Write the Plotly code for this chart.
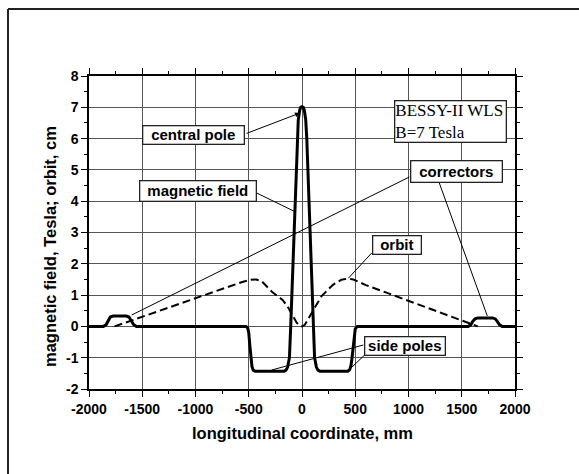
import plotly.graph_objects as go

# ---------------- data ----------------
field_x = [-2000, -1865, -1840, -1820, -1800, -1775, -1650, -1625, -1605, -1582, -1555,
           -525, -510, -500, -490, -480, -470, -458, -440,
           -168, -150, -135, -118, -106, -95, -82, -72, -63, -55, -45, -35, -22, -12, 0,
           12, 22, 35, 45, 55, 63, 72, 82, 95, 106, 118, 135, 150, 168,
           430, 448, 460, 470, 480, 490, 500, 520,
           1560, 1585, 1605, 1625, 1650, 1790, 1815, 1835, 1855, 1880, 2000]
field_y = [0, 0, 0.05, 0.2, 0.3, 0.33, 0.33, 0.3, 0.2, 0.06, 0,
           0, -0.05, -0.2, -0.6, -1.0, -1.28, -1.4, -1.43,
           -1.43, -1.4, -1.3, -1.0, 0.0, 1.0, 2.0, 3.0, 4.0, 5.0, 6.0, 6.6, 6.9, 7.0, 7.02,
           7.0, 6.9, 6.6, 6.0, 5.0, 4.0, 3.0, 2.0, 1.0, 0.0, -1.0, -1.3, -1.4, -1.43,
           -1.43, -1.38, -1.25, -1.0, -0.6, -0.25, -0.08, 0,
           0, 0.05, 0.17, 0.24, 0.27, 0.27, 0.24, 0.15, 0.05, 0, 0]

orbit_x = [-1760, -1500, -1000, -700, -560, -480, -430, -380, -330, -280, -230, -180, -130,
           -86, -50, -20, 0, 26, 60, 104, 182, 291, 370, 432, 480, 600, 800, 1000, 1200,
           1400, 1550, 1650]
orbit_y = [0, 0.31, 0.90, 1.26, 1.42, 1.49, 1.50, 1.45, 1.28, 1.10, 0.97, 0.84, 0.60,
           0.32, 0.12, 0.02, 0.0, 0.05, 0.25, 0.53, 0.96, 1.33, 1.49, 1.53, 1.50, 1.32, 1.07,
           0.82, 0.57, 0.31, 0.12, 0]

x_ticks = [-2000, -1500, -1000, -500, 0, 500, 1000, 1500, 2000]
y_ticks = [-2, -1, 0, 1, 2, 3, 4, 5, 6, 7, 8]

x_title = "longitudinal coordinate, mm"
y_title = "magnetic field, Tesla; orbit, cm"
labels = ["central pole", "magnetic field", "correctors", "orbit", "side poles"]
info_lines = ["BESSY-II WLS", "B=7 Tesla"]

# ---------------- layout helpers ----------------
W, H = 579, 474
L, R, T, B = 89, 64, 76, 85
PW, PH = W - L - R, H - T - B


def px(xp):
    return (xp - L) / PW


def py(yp):
    return (H - B - yp) / PH


SANS = "Liberation Sans, Arial, sans-serif"
SERIF = "Liberation Serif, Times New Roman, serif"

fig = go.Figure()
fig.add_trace(go.Scatter(x=orbit_x, y=orbit_y, mode="lines",
                         line=dict(color="black", width=2, dash="8px,4px"),
                         showlegend=False, hoverinfo="skip"))
fig.add_trace(go.Scatter(x=field_x, y=field_y, mode="lines",
                         line=dict(color="black", width=3),
                         showlegend=False, hoverinfo="skip"))

axis_common = dict(showline=True, linecolor="black", linewidth=1.5, mirror="ticks",
                   ticks="outside", ticklen=6, tickwidth=1.2, tickcolor="black",
                   showgrid=True, gridcolor="#555", gridwidth=1, zeroline=False,
                   tickfont=dict(family=SANS, size=14, color="black", weight="bold"))

fig.update_xaxes(range=[-2000, 2000], tickvals=x_ticks, ticktext=[str(v) for v in x_ticks],
                 minor=dict(dtick=250, ticks="outside", ticklen=3, tickcolor="black",
                            showgrid=False),
                 **axis_common)
fig.update_yaxes(range=[-2, 8], tickvals=y_ticks, ticktext=[str(v) for v in y_ticks],
                 minor=dict(dtick=0.5, ticks="outside", ticklen=3, tickcolor="black",
                            showgrid=False),
                 **axis_common)

shapes = []
# outer frame of the scanned figure
shapes.append(dict(type="line", xref="paper", yref="paper", x0=px(8), y0=py(9), x1=px(585), y1=py(9),
                   line=dict(color="#222", width=2)))
shapes.append(dict(type="line", xref="paper", yref="paper", x0=px(8), y0=py(9), x1=px(8), y1=py(480),
                   line=dict(color="#222", width=2)))

# callout leader lines (pixel positions)
leaders = [
    ((256.7, 193), (295, 211.7)),
    ((409.3, 177), (131.7, 315)),
    ((439.3, 183), (487.3, 316)),
    ((371.7, 253), (348.3, 278.3)),
    ((363.3, 345), (271.7, 370)),
    ((366.7, 353), (351.7, 367.3)),
]
for (a, b) in leaders:
    shapes.append(dict(type="line", xref="paper", yref="paper",
                       x0=px(a[0]), y0=py(a[1]), x1=px(b[0]), y1=py(b[1]),
                       line=dict(color="black", width=1)))

annotations = []
# label boxes: (text, cx, cy, w, h)
boxes = [
    (labels[0], 193.3, 135, 103, 20),
    (labels[1], 197.5, 191, 118, 22),
    (labels[2], 456, 171.3, 93, 23),
    (labels[3], 396.7, 245, 50, 20),
    (labels[4], 404.5, 346, 82, 20),
]
for (txt, cx, cy, w, h) in boxes:
    annotations.append(dict(text=txt, xref="paper", yref="paper", x=px(cx), y=py(cy),
                            xanchor="center", yanchor="middle", showarrow=False,
                            font=dict(family=SANS, size=15, color="black", weight="bold"),
                            bgcolor="white", bordercolor="#222", borderwidth=1.3,
                            borderpad=0, width=w - 3, height=h - 3))

annotations.append(dict(text="<br>".join(info_lines), xref="paper", yref="paper",
                        x=px(450), y=py(121), xanchor="center", yanchor="middle",
                        showarrow=False, align="left",
                        font=dict(family=SERIF, size=17, color="black"),
                        bgcolor="white", bordercolor="#222", borderwidth=1.3,
                        borderpad=0, width=110, height=40))

# arrow to the central peak
annotations.append(dict(text="", xref="paper", yref="paper", x=px(300), y=py(113),
                        ax=245 - 300, ay=134 - 113, showarrow=True, arrowhead=2,
                        arrowsize=1, arrowwidth=1, arrowcolor="black", standoff=0,
                        startstandoff=0))

# axis titles
annotations.append(dict(text=x_title, xref="paper", yref="paper", x=px(302), y=py(433),
                        xanchor="center", yanchor="middle", showarrow=False,
                        font=dict(family=SANS, size=16.5, color="black", weight="bold")))
annotations.append(dict(text=y_title, xref="paper", yref="paper", x=px(50), y=py(247),
                        xanchor="center", yanchor="middle", showarrow=False, textangle=-90,
                        font=dict(family=SANS, size=16.5, color="black", weight="bold")))

fig.update_layout(width=W, height=H, margin=dict(l=L, r=R, t=T, b=B),
                  paper_bgcolor="white", plot_bgcolor="white",
                  shapes=shapes, annotations=annotations, showlegend=False)

fig.write_html("out.html")
